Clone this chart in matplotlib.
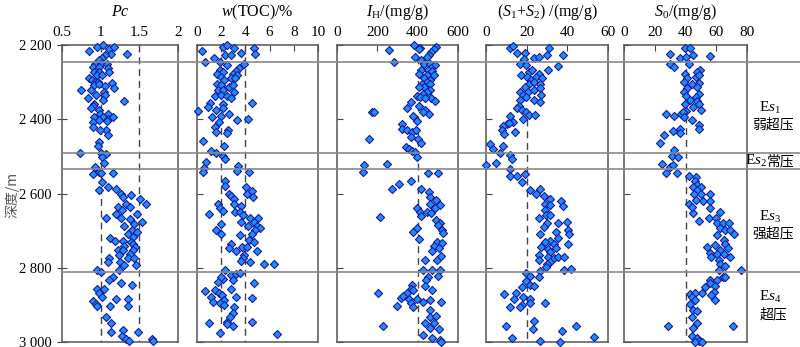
import numpy as np
import matplotlib
matplotlib.use('Agg')
import matplotlib.pyplot as plt
from matplotlib.lines import Line2D
from matplotlib import transforms

plt.rcParams['font.family'] = ['Liberation Serif', 'Noto Sans CJK SC', 'DejaVu Sans']
plt.rcParams['mathtext.fontset'] = 'custom'
plt.rcParams['mathtext.rm'] = 'Liberation Serif'
plt.rcParams['mathtext.it'] = 'Liberation Serif:italic'

# depth (m), value
pc_data = np.array([
    (2216, 0.854), (2205, 0.949), (2200, 1.027), (2212, 1.105), (2205, 1.178), (2223, 1.135), (2227, 1.062),
    (2234, 1.018), (2241, 0.984), (2225, 1.342), (2250, 0.932), (2250, 1.005), (2250, 1.083), (2259, 0.897),
    (2259, 0.975), (2261, 1.096), (2272, 0.915), (2272, 0.975), (2272, 1.105), (2281, 0.954), (2281, 1.018),
    (2290, 0.854), (2295, 0.884), (2299, 0.932), (2299, 0.971), (2302, 1.148), (2308, 0.915), (2305, 0.984),
    (2311, 1.053), (2317, 1.178), (2320, 0.751), (2320, 0.876), (2326, 1.049), (2335, 0.941), (2335, 1.062),
    (2344, 0.841), (2349, 1.027), (2351, 1.308), (2358, 0.915), (2365, 0.897), (2371, 0.880), (2376, 0.975),
    (2385, 0.992), (2385, 1.100), (2393, 0.910), (2395, 1.027), (2398, 1.092), (2395, 1.165), (2407, 0.906),
    (2402, 0.984), (2404, 1.079), (2420, 0.906), (2429, 1.070), (2443, 1.100), (2429, 0.992), (2461, 0.984),
    (2473, 0.971), (2490, 0.733), (2492, 1.005), (2494, 1.070), (2503, 1.018), (2517, 1.049), (2528, 0.932),
    (2548, 0.906), (2542, 0.975), (2546, 1.005), (2544, 1.165), (2569, 1.018), (2582, 1.100), (2591, 0.984),
    (2589, 1.200), (2600, 1.265), (2609, 1.286), (2605, 1.394), (2616, 1.511), (2629, 1.589), (2636, 1.221),
    (2627, 1.329), (2636, 1.373), (2645, 1.278), (2656, 1.200), (2654, 1.468), (2665, 1.070), (2667, 1.265),
    (2670, 1.381), (2676, 1.537), (2681, 1.437), (2688, 1.308), (2699, 1.407), (2703, 1.468), (2710, 1.351),
    (2717, 1.424), (2721, 1.122), (2728, 1.191), (2728, 1.295), (2730, 1.394), (2735, 1.424), (2742, 1.308),
    (2744, 1.450), (2753, 1.221), (2753, 1.286), (2753, 1.424), (2762, 1.381), (2766, 1.243), (2773, 1.351),
    (2775, 1.113), (2775, 1.437), (2784, 1.092), (2784, 1.256), (2793, 1.308), (2793, 1.459), (2807, 0.949),
    (2811, 1.005), (2807, 1.234), (2825, 1.157), (2834, 1.113), (2841, 1.265), (2847, 1.407), (2856, 0.954),
    (2856, 1.049), (2869, 0.975), (2878, 1.018), (2889, 0.906), (2898, 0.941), (2883, 1.200), (2883, 1.351),
    (2904, 1.126), (2904, 1.351), (2904, 0.954), (2932, 1.070), (2950, 1.139), (2968, 1.286), (2973, 1.139),
    (2973, 1.481), (2984, 1.278), (2991, 1.329), (2998, 1.364), (2991, 1.662), (2998, 1.675),
])

toc_data = np.array([
    (2216, 0.44), (2245, 0.64), (2234, 1.39), (2205, 2.16), (2201, 2.44), (2227, 2.30), (2227, 2.85),
    (2209, 3.07), (2221, 3.63), (2207, 4.74), (2223, 4.82), (2245, 1.94), (2252, 3.91), (2254, 2.49),
    (2263, 3.49), (2270, 3.21), (2266, 1.94), (2272, 2.16), (2279, 1.66), (2277, 2.99), (2281, 3.27),
    (2286, 2.02), (2290, 2.85), (2295, 2.22), (2290, 3.13), (2305, 1.66), (2308, 2.02), (2313, 2.66),
    (2308, 2.99), (2320, 1.75), (2322, 2.16), (2326, 3.05), (2338, 1.47), (2335, 2.02), (2338, 2.44),
    (2344, 2.77), (2356, 1.11), (2367, 0.94), (2359, 2.16), (2356, 4.52), (2377, 0.08), (2376, 1.61),
    (2371, 2.16), (2386, 2.66), (2393, 1.27), (2392, 2.02), (2402, 3.27), (2398, 4.24), (2407, 1.83),
    (2422, 1.47), (2428, 2.58), (2434, 1.61), (2438, 2.52), (2459, 0.50), (2473, 2.22), (2485, 1.19),
    (2490, 1.61), (2499, 2.16), (2506, 2.30), (2515, 0.78), (2530, 0.55), (2542, 0.50), (2526, 3.35),
    (2540, 3.27), (2542, 4.32), (2566, 2.30), (2580, 2.30), (2600, 2.66), (2606, 2.85), (2616, 3.07),
    (2582, 4.04), (2600, 4.16), (2593, 4.52), (2609, 4.60), (2627, 3.05), (2634, 3.60), (2629, 1.75),
    (2638, 1.94), (2648, 2.16), (2649, 3.16), (2649, 3.55), (2654, 1.00), (2658, 3.77), (2665, 4.38),
    (2667, 5.07), (2676, 4.71), (2681, 2.02), (2676, 3.60), (2688, 4.24), (2688, 4.93), (2694, 5.21),
    (2699, 1.61), (2697, 4.82), (2710, 2.02), (2712, 3.55), (2708, 4.52), (2726, 4.32), (2730, 4.71),
    (2735, 2.85), (2748, 2.66), (2754, 3.21), (2744, 3.68), (2744, 4.16), (2755, 4.93), (2766, 3.88),
    (2775, 3.77), (2781, 3.60), (2784, 4.38), (2791, 5.54), (2790, 6.37), (2805, 2.30), (2820, 2.85),
    (2816, 3.21), (2814, 3.55), (2829, 2.16), (2825, 1.97), (2838, 1.75), (2832, 2.99), (2840, 4.71),
    (2863, 0.64), (2859, 1.47), (2869, 1.83), (2856, 2.85), (2878, 1.19), (2874, 2.09), (2887, 2.22),
    (2892, 1.33), (2895, 1.88), (2878, 3.21), (2881, 4.54), (2901, 2.22), (2907, 3.05), (2922, 2.94),
    (2934, 2.71), (2946, 2.52), (2950, 1.00), (2952, 2.44), (2957, 2.99), (2947, 4.52), (2975, 1.94),
    (2979, 6.65),
])

ih_data = np.array([
    (2201, 384), (2207, 412), (2211, 409), (2205, 489), (2212, 479), (2218, 467), (2226, 455), (2232, 445),
    (2214, 256), (2232, 387), (2241, 416), (2245, 283), (2250, 432), (2250, 459), (2254, 487), (2263, 467),
    (2266, 449), (2270, 470), (2266, 416), (2279, 409), (2281, 445), (2281, 479), (2290, 432), (2293, 462),
    (2299, 445), (2304, 420), (2305, 459), (2313, 432), (2314, 409), (2320, 462), (2326, 445), (2331, 425),
    (2338, 396), (2340, 412), (2344, 465), (2350, 487), (2344, 434), (2353, 366), (2371, 349), (2365, 409),
    (2376, 437), (2385, 454), (2380, 425), (2380, 173), (2380, 183), (2392, 379), (2405, 399), (2413, 321),
    (2425, 321), (2428, 346), (2434, 371), (2429, 392), (2449, 366), (2454, 160), (2454, 404), (2465, 416),
    (2474, 342), (2481, 356), (2485, 371), (2488, 387), (2501, 399), (2524, 133), (2521, 249), (2542, 130),
    (2544, 449), (2544, 500), (2566, 366), (2575, 309), (2589, 273), (2587, 416), (2596, 454), (2609, 462),
    (2618, 492), (2631, 512), (2627, 462), (2640, 487), (2639, 399), (2649, 412), (2649, 445), (2663, 213),
    (2661, 416), (2652, 465), (2672, 492), (2679, 509), (2685, 500), (2697, 520), (2706, 525), (2692, 399),
    (2705, 379), (2723, 406), (2730, 495), (2733, 520), (2742, 479), (2754, 470), (2748, 504), (2778, 437),
    (2780, 495), (2769, 515), (2805, 470), (2807, 425), (2807, 509), (2823, 500), (2825, 449), (2834, 442),
    (2847, 371), (2856, 366), (2849, 437), (2859, 470), (2860, 379), (2869, 346), (2881, 316), (2867, 204),
    (2876, 329), (2883, 359), (2884, 399), (2886, 459), (2892, 515), (2903, 296), (2896, 366), (2907, 379),
    (2892, 425), (2914, 462), (2934, 462), (2930, 492), (2957, 229), (2948, 437), (2948, 482), (2962, 459),
    (2964, 504), (2982, 428), (2988, 470), (2995, 509), (2999, 515),
])

s12_data = np.array([
    (2207, 11.6), (2203, 13.3), (2221, 15.3), (2221, 19.4), (2234, 23.8), (2232, 26.1), (2209, 30.8),
    (2227, 30.0), (2227, 37.9), (2250, 16.9), (2239, 18.5), (2254, 19.8), (2256, 35.3), (2268, 30.3),
    (2281, 17.4), (2272, 21.0), (2266, 22.6), (2277, 25.9), (2286, 20.2), (2295, 22.3), (2286, 24.8),
    (2290, 27.6), (2304, 21.0), (2299, 23.5), (2304, 26.7), (2314, 19.0), (2326, 16.6), (2326, 20.5),
    (2320, 23.8), (2317, 26.7), (2335, 18.2), (2340, 19.8), (2347, 23.8), (2335, 27.1), (2353, 26.4),
    (2349, 16.6), (2365, 16.1), (2371, 15.3), (2376, 17.7), (2380, 19.8), (2389, 21.0), (2389, 24.3),
    (2392, 11.6), (2398, 18.2), (2414, 10.3), (2418, 8.4), (2407, 13.3), (2428, 8.0), (2411, 11.2),
    (2440, 9.0), (2434, 14.4), (2467, 2.1), (2472, 8.4), (2481, 3.4), (2490, 6.7), (2497, 11.6),
    (2508, 12.6), (2524, 0.2), (2519, 5.1), (2535, 11.6), (2553, 12.0), (2552, 15.3), (2548, 19.4),
    (2570, 17.7), (2591, 21.8), (2602, 24.8), (2587, 26.7), (2606, 28.7), (2616, 31.7), (2620, 36.9),
    (2634, 37.9), (2627, 29.2), (2631, 31.3), (2645, 29.2), (2658, 29.7), (2658, 31.7), (2667, 25.9),
    (2679, 30.0), (2679, 35.3), (2676, 39.9), (2690, 28.7), (2703, 34.6), (2699, 40.2), (2708, 40.7),
    (2710, 26.7), (2728, 31.7), (2735, 33.3), (2730, 29.2), (2719, 35.3), (2737, 40.2), (2745, 27.1),
    (2750, 30.3), (2757, 31.7), (2748, 34.6), (2766, 25.9), (2771, 30.3), (2775, 33.3), (2771, 35.3),
    (2778, 25.9), (2784, 31.7), (2789, 30.0), (2771, 38.2), (2799, 29.7), (2805, 38.2), (2803, 41.8),
    (2814, 19.8), (2823, 21.5), (2808, 26.4), (2825, 25.9), (2835, 19.8), (2847, 21.5), (2853, 17.7),
    (2850, 23.5), (2867, 14.9), (2871, 9.0), (2878, 18.2), (2883, 13.6), (2883, 21.8), (2899, 17.7),
    (2907, 16.9), (2905, 12.0), (2894, 21.5), (2894, 29.2), (2943, 23.5), (2964, 23.3), (2957, 10.0),
    (2970, 37.4), (2957, 44.4), (2988, 12.6), (2986, 53.0), (2997, 26.7), (2999, 36.2),
])

s0_data = np.array([
    (2209, 39.8), (2209, 43.0), (2223, 29.6), (2236, 36.1), (2232, 40.4), (2227, 44.8), (2230, 56.1),
    (2250, 42.6), (2252, 29.6), (2259, 32.2), (2266, 49.6), (2277, 39.8), (2272, 47.8), (2288, 41.3),
    (2286, 47.0), (2281, 49.1), (2299, 39.1), (2304, 44.1), (2302, 49.1), (2317, 41.3), (2314, 47.8),
    (2326, 38.7), (2331, 48.5), (2338, 40.4), (2340, 47.0), (2349, 43.0), (2350, 47.8), (2358, 39.8),
    (2359, 49.1), (2368, 44.8), (2374, 50.0), (2377, 40.4), (2385, 27.4), (2385, 37.0), (2380, 38.3),
    (2392, 32.6), (2393, 38.7), (2402, 44.1), (2416, 48.5), (2427, 48.5), (2425, 36.5), (2431, 31.7),
    (2438, 36.5), (2443, 26.3), (2465, 23.5), (2483, 32.2), (2499, 31.1), (2503, 35.4), (2521, 24.6),
    (2528, 29.6), (2524, 31.7), (2546, 27.4), (2544, 34.3), (2552, 42.2), (2555, 46.7), (2566, 46.3),
    (2578, 47.8), (2582, 45.2), (2582, 50.0), (2591, 47.4), (2600, 45.7), (2600, 50.0), (2602, 56.1),
    (2629, 42.2), (2618, 47.0), (2620, 51.7), (2620, 56.1), (2652, 45.2), (2636, 44.1), (2640, 56.1),
    (2675, 49.1), (2667, 55.0), (2665, 60.0), (2649, 62.2), (2679, 60.4), (2679, 64.3), (2679, 68.0),
    (2694, 62.6), (2699, 65.9), (2699, 69.1), (2708, 71.7), (2712, 60.4), (2724, 64.8), (2735, 65.9),
    (2745, 54.3), (2739, 59.3), (2753, 62.6), (2748, 67.4), (2760, 55.7), (2763, 60.4), (2763, 64.8),
    (2771, 56.5), (2778, 61.5), (2771, 68.7), (2789, 62.6), (2796, 65.9), (2805, 61.5), (2805, 76.1),
    (2825, 64.3), (2826, 65.9), (2832, 56.1), (2832, 60.4), (2842, 55.7), (2850, 59.3), (2853, 52.8),
    (2865, 58.3), (2868, 50.7), (2871, 43.0), (2868, 46.3), (2874, 56.5), (2878, 44.1), (2886, 46.3),
    (2886, 59.3), (2898, 43.0), (2914, 45.2), (2916, 47.8), (2934, 44.1), (2948, 47.8), (2957, 28.9),
    (2962, 45.2), (2956, 70.9), (2984, 44.1), (2988, 47.8), (2998, 49.1), (2999, 46.3), (2999, 50.7),
])

boundary_depths = [2245, 2491, 2535, 2812]
depth_ticks = [2200, 2400, 2600, 2800, 3000]
depth_labels = ['2 200', '2 400', '2 600', '2 800', '3 000']

panels = [
    # data, xlim, xticks, tick labels, title, reference lines, ref start depth, left/right px
    (pc_data, (0.5, 2), [0.5, 1, 1.5, 2], ['0.5', '1', '1.5', '2'], r'$Pc$', [1, 1.5], 2200, 62, 178),
    (toc_data, (0, 10), [0, 2, 4, 6, 8, 10], ['0', '2', '4', '6', '8', '10'], r'$w$(TOC)/%', [2, 4], 2200, 197, 318),
    (ih_data, (0, 600), [0, 200, 400, 600], ['0', '200', '400', '600'], r'$I_{\rm H}$/(mg/g)', [400], 2200, 337, 458),
    (s12_data, (0, 60), [0, 20, 40, 60], ['0', '20', '40', '60'], r'($S_1$+$S_2$) /(mg/g)', [20], 2400, 486, 608),
    (s0_data, (0, 80), [0, 20, 40, 60, 80], ['0', '20', '40', '60', '80'], r'$S_0$/(mg/g)', [40], 2200, 624, 747),
]

W, H = 800, 347
fig = plt.figure(figsize=(8, 3.47), dpi=100)
top_px, bot_px = 45, 342
axes = []
for i, (data, xlim, xt, xl, title, refs, ref_start, lpx, rpx) in enumerate(panels):
    ax = fig.add_axes([lpx / W, (H - bot_px) / H, (rpx - lpx) / W, (bot_px - top_px) / H])
    for v in refs:
        ax.plot([v, v], [ref_start, 3000], color='#444444', lw=1.0, ls=(0, (5, 3.5)), zorder=1)
    ax.scatter(data[:, 1], data[:, 0], marker='D', s=17, facecolor='#1e8cff',
               edgecolor='#1a1a9a', linewidths=0.8, zorder=3, clip_on=False)
    ax.set_xlim(*xlim)
    ax.set_ylim(3000, 2200)
    ax.xaxis.tick_top()
    ax.set_xticks(xt)
    ax.set_xticklabels(xl)
    ax.set_yticks(depth_ticks)
    ax.tick_params(axis='x', direction='in', length=4, pad=4, labelsize=11, color='#444444')
    if i == 0:
        ax.set_yticklabels(depth_labels)
        ax.tick_params(axis='y', direction='inout', length=7, pad=4, labelsize=10.5, color='#444444')
    else:
        ax.set_yticklabels([])
        ax.tick_params(axis='y', direction='in', length=4, color='#444444')
    for sp in ax.spines.values():
        sp.set_color('#555555')
        sp.set_linewidth(1.1)
    ax.text(0.5, 1.11, title, transform=ax.transAxes, ha='center', va='center', fontsize=11.5)
    axes.append(ax)

cjk = ['Noto Sans CJK SC', 'DejaVu Sans']

# depth axis label
ylab = transforms.blended_transform_factory(fig.transFigure, axes[0].transData)
fig.text(12 / W, 2604, '深度/m', transform=ylab, rotation=90, ha='center', va='center',
         fontsize=10, color='#555555', family=cjk)

# formation boundaries across all tracks
trans = transforms.blended_transform_factory(fig.transFigure, axes[0].transData)
for d in boundary_depths:
    fig.add_artist(Line2D([62 / W, 1.0], [d, d], transform=trans, color='#888888', lw=1.2, zorder=5))

# formation labels on the right
lab = trans
fig.text(770 / W, 2370, r'E$s_1$', transform=lab, ha='center', va='center', fontsize=11)
fig.text(773 / W, 2413, '弱超压', transform=lab, ha='center', va='center', fontsize=10, family=cjk)
fig.text(767 / W, 2513, r'E$s_2$', transform=lab, ha='right', va='center', fontsize=11)
fig.text(767 / W, 2513, '常压', transform=lab, ha='left', va='center', fontsize=10, family=cjk)
fig.text(770 / W, 2663, r'E$s_3$', transform=lab, ha='center', va='center', fontsize=11)
fig.text(773 / W, 2708, '强超压', transform=lab, ha='center', va='center', fontsize=10, family=cjk)
fig.text(770 / W, 2878, r'E$s_4$', transform=lab, ha='center', va='center', fontsize=11)
fig.text(773 / W, 2925, '超压', transform=lab, ha='center', va='center', fontsize=10, family=cjk)

fig.savefig('out.png', dpi=100)
